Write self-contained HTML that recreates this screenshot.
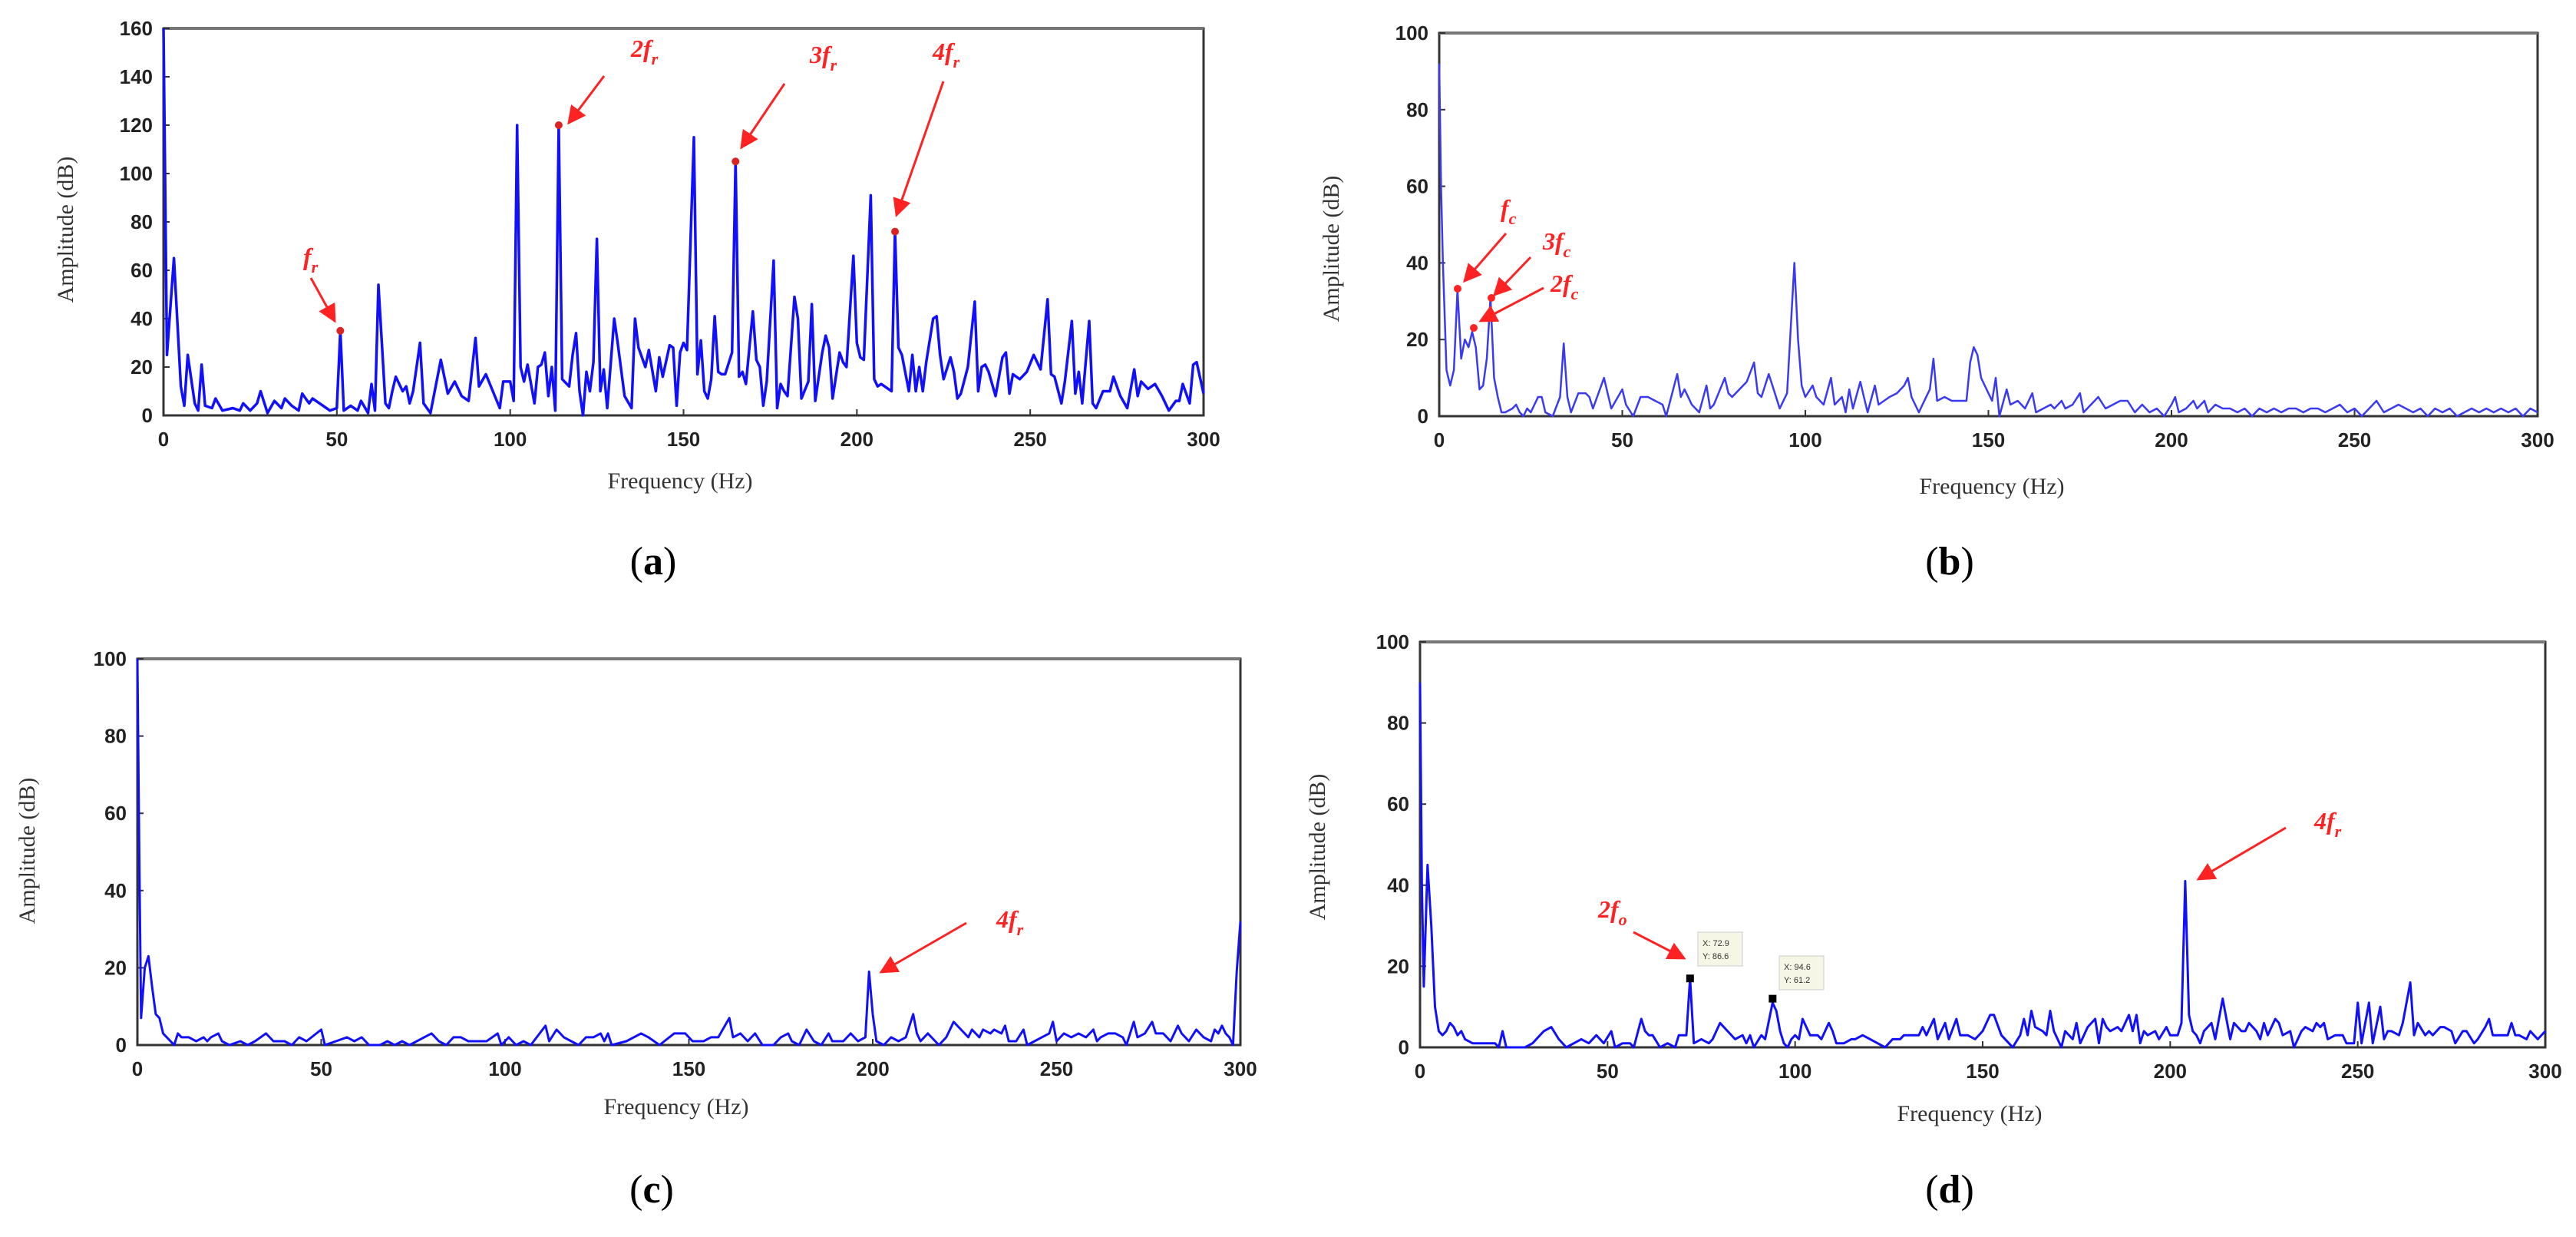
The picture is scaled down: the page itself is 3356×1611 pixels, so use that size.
<!DOCTYPE html>
<html><head><meta charset="utf-8"><style>
html,body{margin:0;padding:0;background:#fff;}
svg{display:block;}
.tick{font-family:"Liberation Sans",sans-serif;font-size:26px;fill:#222;font-weight:bold;}
.axt{font-family:"Liberation Serif",serif;font-size:30px;fill:#333;}
.pl{font-family:"Liberation Serif",serif;font-size:52px;fill:#000;}
.ann{font-family:"Liberation Serif",serif;font-style:italic;font-weight:bold;font-size:32px;fill:#f22;}
</style></head><body>
<svg id="fig" width="3356" height="1611" viewBox="0 0 3356 1611" xmlns="http://www.w3.org/2000/svg">
<defs><marker id="ah" markerWidth="8" markerHeight="8" refX="7" refY="4" orient="auto"><path d="M0,0 L8,4 L0,8 z" fill="#f22"/></marker></defs>
</svg>
<script>
const freqA=[0,1,3,5,6,7,9,10,11,12,14,15,17,20,22,23,25,27,28,30,32,34,35,37,39,40,42,43,45,47,48,50,51,52,54,56,57,59,60,61,62,64,65,66,67,69,70,71,72,74,75,77,80,82,84,86,88,90,91,93,95,97,98,100,101,102,103,104,105,107,108,109,110,111,112,113,114,115,117,118,119,120,121,122,123,124,125,126,127,128,130,131,133,135,136,137,139,140,142,143,144,146,147,148,149,150,151,153,154,155,156,157,158,159,160,161,162,164,165,166,167,168,170,171,172,173,174,176,177,178,179,180,182,183,184,186,187,188,190,191,192,193,195,196,197,199,200,201,202,204,205,206,207,208,210,211,212,213,215,216,217,218,219,220,222,223,224,225,227,228,229,230,232,234,235,236,237,238,240,242,243,244,245,247,249,251,253,255,256,257,259,260,262,263,264,265,267,268,269,271,273,274,276,278,280,281,282,284,286,288,290,292,293,294,296,297,298,300];
const ampA=[160,25,65,12,4,25,5,2,21,4,3,7,2,3,2,5,2,5,10,1,6,3,7,4,2,9,5,7,5,3,2,3,35,2,4,2,6,1,13,2,54,5,3,10,16,10,12,5,10,30,5,1,23,9,14,8,6,32,12,17,10,3,14,14,6,120,20,14,21,5,20,21,26,8,20,2,120,15,12,25,34,10,0,18,10,22,73,10,19,3,40,30,8,3,40,28,20,27,10,24,16,29,28,4,26,30,27,115,17,31,10,7,15,41,18,17,17,26,105,16,18,13,43,23,20,4,14,64,3,13,10,8,49,40,7,14,46,6,26,33,28,7,26,22,20,66,30,24,23,91,15,12,13,12,10,76,28,25,10,25,10,20,10,22,40,41,25,15,24,18,7,9,20,47,10,20,21,18,8,24,26,9,17,15,18,25,19,48,17,16,5,14,39,9,18,5,39,5,3,10,10,16,8,3,19,8,14,11,13,8,2,6,6,13,5,21,22,9,7];
const freqB=[0,0.5,1,2,3,4,5,6,7,8,9,10,11,12,13,14,15,16,17,18,20,21,22,23,24,25,27,28,29,31,33,34,35,36,38,40,41,42,45,46,47,50,51,53,55,57,59,61,62,65,66,67,69,71,73,74,75,78,79,80,82,84,86,87,88,90,91,93,95,97,98,99,100,102,103,105,107,108,110,111,112,113,115,116,117,119,120,123,125,127,128,129,131,132,134,135,136,138,140,142,144,145,146,147,148,150,151,152,153,155,156,158,160,162,163,165,167,168,170,171,173,175,176,178,180,182,184,186,188,190,192,194,196,198,200,201,202,204,206,207,209,210,212,214,216,218,220,222,224,226,228,230,232,234,236,238,240,242,244,246,248,250,252,254,256,258,260,262,264,266,268,270,272,274,276,278,280,282,284,286,288,290,292,294,296,298,300];
const ampB=[92,60,40,12,8,12,33,15,20,18,22,18,7,8,15,31,10,5,1,1,2,3,1,0,2,1,5,5,1,0,5,19,5,1,6,6,5,2,10,6,2,7,3,0,5,5,4,3,0,11,5,7,3,1,8,2,3,10,6,5,7,9,14,6,5,11,8,2,6,40,20,8,5,8,5,3,10,3,5,1,7,2,9,5,1,8,3,5,6,8,10,5,1,3,7,15,4,5,4,4,4,14,18,16,10,6,4,10,0,7,3,4,2,6,1,2,3,2,4,2,3,6,1,3,5,2,3,4,4,1,3,1,2,0,3,5,1,2,4,2,4,1,3,2,2,1,2,0,2,1,2,1,2,2,1,2,2,1,2,3,1,2,0,2,4,1,2,3,2,1,2,0,2,1,2,0,1,2,1,2,1,2,1,2,0,2,1];
const freqC=[0,0.5,1,2,3,4,5,6,7,8,10,11,12,14,16,18,19,20,22,23,25,28,30,32,35,37,40,42,44,46,50,51,54,57,59,61,63,66,68,70,72,74,78,80,82,84,86,88,90,95,98,99,101,103,105,107,111,112,114,116,118,120,122,124,126,127,128,129,133,137,139,142,146,149,151,154,156,158,161,162,164,166,168,170,173,175,177,178,180,182,184,186,188,189,192,194,196,198,199,200,201,203,205,207,209,211,212,213,215,217,218,220,222,224,226,227,229,230,232,233,235,236,237,239,241,242,244,246,248,249,250,252,254,256,258,260,261,262,264,266,268,269,271,272,274,276,277,279,281,283,284,286,288,290,292,293,294,295,296,297,298,299,300];
const ampC=[100,50,7,20,23,15,8,7,3,2,0,3,2,2,1,2,1,2,3,1,0,1,0,1,3,1,1,0,2,1,4,0,1,2,1,2,0,0,1,0,1,0,2,3,1,0,2,2,1,1,3,0,2,0,1,0,5,1,4,2,1,0,2,2,3,1,3,0,1,3,2,0,3,3,1,1,2,2,7,2,3,1,3,0,0,2,3,1,0,4,1,0,3,1,1,3,1,2,19,8,1,0,2,1,2,8,3,1,3,1,0,2,6,4,2,4,2,4,3,4,3,5,1,1,4,0,1,2,3,6,1,3,2,3,2,4,1,2,3,3,2,0,6,2,3,6,3,3,1,5,3,1,4,2,1,4,3,5,3,2,0,19,32];
const freqD=[0,0.5,1,2,3,4,5,6,7,8,9,10,11,12,14,16,18,20,21,22,23,25,28,30,33,35,37,39,41,43,45,47,49,51,52,54,56,57,59,60,61,62,64,66,68,69,71,72,73,75,77,78,80,82,84,86,87,88,89,91,92,94,95,96,97,98,99,100,101,102,103,104,106,107,109,110,111,113,115,116,118,120,122,124,126,128,129,131,133,134,135,137,138,140,141,143,144,146,148,150,152,153,155,157,158,160,161,162,163,164,166,167,168,169,171,172,174,175,176,178,180,181,182,183,184,186,187,189,190,191,192,193,194,196,197,199,200,202,203,204,205,206,207,208,209,211,212,214,215,216,217,219,220,221,223,224,225,226,228,229,230,232,233,235,236,238,239,240,241,242,244,246,247,249,250,251,253,254,256,257,258,259,261,262,264,265,266,268,269,270,272,273,275,276,278,279,281,282,284,285,286,288,290,291,292,293,295,296,297,298,300];
const ampD=[90,40,15,45,30,10,4,3,4,6,5,3,4,2,1,1,1,1,0,4,0,0,0,1,4,5,2,0,1,2,1,3,1,4,0,1,1,0,7,4,3,3,0,1,0,3,3,17,1,2,1,2,6,4,2,3,1,3,0,3,2,11,9,4,1,0,2,3,2,7,5,3,3,2,6,4,1,1,2,2,3,2,1,0,2,2,3,3,3,5,3,7,2,6,2,7,3,3,2,4,8,8,3,1,0,3,7,3,9,5,4,3,9,4,0,4,2,6,1,5,7,1,7,5,4,5,4,8,4,8,1,4,3,4,2,5,3,3,6,41,8,4,3,1,4,6,2,12,7,2,6,4,4,6,4,2,6,3,7,6,3,4,0,4,5,4,6,5,6,2,3,3,1,1,11,1,11,1,10,2,4,4,3,6,16,3,6,3,4,3,5,5,4,1,4,4,1,2,5,7,3,3,3,6,3,3,2,4,3,2,4];
const yTicksA=[0,20,40,60,80,100,120,140,160];
const yTicks100=[0,20,40,60,80,100];
const xTicks=[0,50,100,150,200,250,300];

const NS='http://www.w3.org/2000/svg';
const svg=document.getElementById('fig');
function mk(tag,attrs,parent,text){const e=document.createElementNS(NS,tag);for(const k in attrs)e.setAttribute(k,attrs[k]);if(text!==undefined)e.textContent=text;(parent||svg).appendChild(e);return e;}

function panel(id,box,ymax,yt,fr,am,lineColor,lineW,titleX,titleY,xlabX,xlabY,plX,plY,letter){
  const g=mk('g',{});
  
  
  const X=f=>box.x0+(box.x1-box.x0)*f/300;
  const Y=v=>box.y0-(box.y0-box.y1)*v/ymax;
  // frame
  const fr1=mk('rect',{x:box.x0,y:box.y1,width:box.x1-box.x0,height:box.y0-box.y1,fill:'none',stroke:'#333','stroke-width':3},g);
  
  
  mk('line',{x1:box.x0,y1:box.y1,x2:box.x1,y2:box.y1,stroke:'#777','stroke-width':4},g);
  for(const t of yt){
    mk('line',{x1:box.x0,y1:Y(t),x2:box.x0+8,y2:Y(t),stroke:'#333','stroke-width':2},g);
    const tl=mk('text',{x:box.x0-14,y:Y(t)+9,'text-anchor':'end',class:'tick'},g,String(t));
    
    
  }
  for(const t of xTicks){
    mk('line',{x1:X(t),y1:box.y0,x2:X(t),y2:box.y0-8,stroke:'#333','stroke-width':2},g);
    const tl=mk('text',{x:X(t),y:box.y0+40,'text-anchor':'middle',class:'tick'},g,String(t));
    
    
  }
  let d='';
  for(let i=0;i<fr.length;i++){d+=(i?'L':'M')+X(fr[i]).toFixed(1)+','+Y(am[i]).toFixed(1);}
  const ln=mk('path',{d:d,fill:'none',stroke:lineColor,'stroke-width':lineW,'stroke-linejoin':'round'},g);
  
  
  const yt1=mk('text',{x:titleX,y:titleY,'text-anchor':'middle',class:'axt',transform:'rotate(-90 '+titleX+' '+titleY+')'},g,'Amplitude (dB)');
  
  
  const xt=mk('text',{x:xlabX,y:xlabY,'text-anchor':'middle',class:'axt'},g,'Frequency (Hz)');
  
  
  const pl=mk('text',{x:plX,y:plY,'text-anchor':'middle',class:'pl'},g);
  
  
  mk('tspan',{},pl,'(');mk('tspan',{'font-weight':'bold'},pl,letter);mk('tspan',{},pl,')');
  return {X,Y,g};
}
function ann(g,x,y,num,sub,name){
  const t=mk('text',{x:x,y:y,class:'ann'},g);
  
  
  mk('tspan',{},t,num+'f');
  mk('tspan',{dy:10,'font-size':22},t,sub);
}
function arrow(g,x1,y1,x2,y2){
  const a=mk('line',{x1,y1,x2,y2,stroke:'#f22','stroke-width':3,'marker-end':'url(#ah)'},g);
  
  
}
function dot(g,x,y,c){const d=mk('circle',{cx:x,cy:y,r:5,fill:c},g);}

// (a)
const pa=panel('a',{x0:213,x1:1568,y0:541,y1:37},160,yTicksA,freqA,ampA,'#1010ff',3.5,95,299,886,636,851,748,'a');
dot(pa.g,pa.X(51),pa.Y(35),'#d22');dot(pa.g,pa.X(114),pa.Y(120),'#d22');dot(pa.g,pa.X(165),pa.Y(105),'#d22');dot(pa.g,pa.X(211),pa.Y(76),'#d22');
ann(pa.g,395,345,'','r','fr-label-a');
pa.g.lastChild.firstChild.textContent='f';
ann(pa.g,822,74,'2','r','2fr-label');ann(pa.g,1055,82,'3','r','3fr-label');ann(pa.g,1215,78,'4','r','4fr-label');
arrow(pa.g,405,362,436,418);arrow(pa.g,787,99,741,160);arrow(pa.g,1022,109,966,192);arrow(pa.g,1229,106,1168,280);

// (b)
const pb=panel('b',{x0:1875,x1:3306,y0:542,y1:43},100,yTicks100,freqB,ampB,'#3a3af5',2.5,1744,324,2595,643,2540,748,'b');
dot(pb.g,1899,376,'#f22');dot(pb.g,1943,388,'#f22');dot(pb.g,1920,427,'#f22');
ann(pb.g,1955,282,'','c','fc-label');pb.g.lastChild.firstChild.textContent='f';
ann(pb.g,2010,325,'3','c','3fc-label');ann(pb.g,2020,380,'2','c','2fc-label');
arrow(pb.g,1962,304,1908,366);arrow(pb.g,1994,335,1947,384);arrow(pb.g,2011,375,1929,418);

// (c)
const pc=panel('c',{x0:179,x1:1616,y0:1361,y1:858},100,yTicks100,freqC,ampC,'#1010ff',3,45,1108,881,1451,849,1566,'c');
ann(pc.g,1298,1208,'4','r','4fr-label-c');
arrow(pc.g,1259,1202,1148,1266);

// (d)
const pd=panel('d',{x0:1850,x1:3316,y0:1364,y1:836},100,yTicks100,freqD,ampD,'#1010ff',3,1726,1103,2566,1460,2540,1566,'d');
ann(pd.g,3015,1080,'4','r','4fr-label-d');ann(pd.g,2082,1195,'2','o','2fo-label');
arrow(pd.g,2978,1078,2864,1145);arrow(pd.g,2128,1214,2194,1248);
for(const b of [[2212,1214,'X: 72.9','Y: 86.6',72,17],[2318,1245,'X: 94.6','Y: 61.2',94,12]]){
  const r=mk('rect',{x:b[0],y:b[1],width:58,height:44,fill:'#f6f6e6',stroke:'#ccc','stroke-width':1},pd.g);
  
  
  mk('text',{x:b[0]+6,y:b[1]+18,'font-size':11,'font-family':'Liberation Sans, sans-serif',fill:'#333'},pd.g,b[2]);
  mk('text',{x:b[0]+6,y:b[1]+35,'font-size':11,'font-family':'Liberation Sans, sans-serif',fill:'#333'},pd.g,b[3]);
  mk('rect',{x:pd.X(b[4])-5,y:pd.Y(b[5])-5,width:10,height:10,fill:'#000'},pd.g);
}
</script>
</body></html>
